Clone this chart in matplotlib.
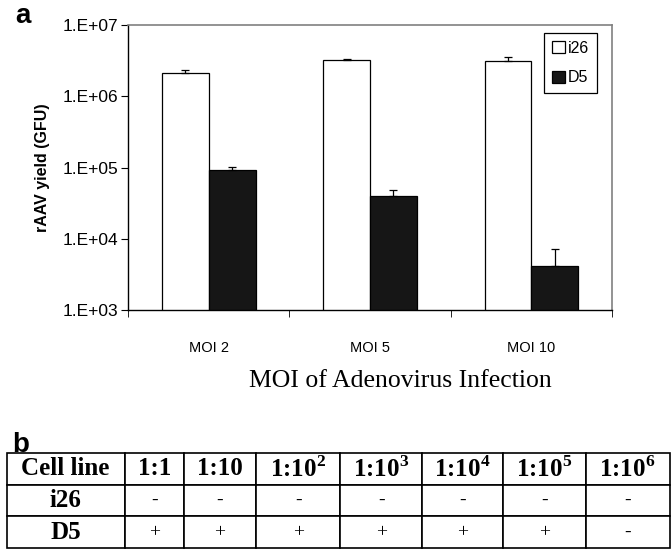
import matplotlib.pyplot as plt
import numpy as np

plt.rcParams['font.family'] = ['Liberation Sans', 'DejaVu Sans']
plt.rcParams['mathtext.fontset'] = 'custom'
plt.rcParams['mathtext.rm'] = 'Liberation Serif'
plt.rcParams['mathtext.bf'] = 'Liberation Serif:bold'

# panel a data
categories = ['MOI 2', 'MOI 5', 'MOI 10']
i26_yield = [2.1e6, 3.2e6, 3.15e6]
i26_err = [0.22e6, 0.08e6, 0.45e6]
d5_yield = [9.2e4, 4.0e4, 4.2e3]
d5_err = [1.1e4, 9e3, 3.0e3]
yticks = [1e3, 1e4, 1e5, 1e6, 1e7]
ytick_labels = ['1.E+03', '1.E+04', '1.E+05', '1.E+06', '1.E+07']

# panel b data
dilutions = ['1:1', '1:10', '1:10$^{\\mathbf{2}}$', '1:10$^{\\mathbf{3}}$',
             '1:10$^{\\mathbf{4}}$', '1:10$^{\\mathbf{5}}$', '1:10$^{\\mathbf{6}}$']
i26_result = ['-', '-', '-', '-', '-', '-', '-']
d5_result = ['+', '+', '+', '+', '+', '+', '-']

fig = plt.figure(figsize=(6.71, 5.54), dpi=100)
ax = fig.add_axes([0.191, 0.440, 0.721, 0.515])

x = np.arange(len(categories))
w = 0.29
ax.bar(x - w/2, i26_yield, w, color='white', edgecolor='black', linewidth=0.9,
       yerr=[[0]*3, i26_err], capsize=3, error_kw={'elinewidth': 0.9, 'capthick': 0.9},
       label='i26', zorder=2)
ax.bar(x + w/2, d5_yield, w, color='#161616', edgecolor='black', linewidth=0.9,
       yerr=[[0]*3, d5_err], capsize=3, error_kw={'elinewidth': 0.9, 'capthick': 0.9},
       label='D5', zorder=2)
ax.set_yscale('log')
ax.set_ylim(1e3, 1e7)
ax.set_xlim(-0.5, 2.5)
ax.set_yticks(yticks)
ax.set_yticklabels(ytick_labels, fontsize=12.5)
ax.yaxis.set_minor_locator(plt.NullLocator())
ax.set_xticks(x)
ax.set_xticklabels(categories, fontsize=10.5)
ax.set_xticks([-0.5, 0.5, 1.5, 2.5], minor=True)
ax.tick_params(axis='x', which='major', length=0, pad=22)
ax.tick_params(axis='x', which='minor', length=5, direction='out')
ax.tick_params(axis='y', length=5, direction='out', pad=2)
for s in ['top', 'right']:
    ax.spines[s].set_color('#808080')
    ax.spines[s].set_linewidth(1.2)
ax.spines['left'].set_linewidth(1.0)
ax.spines['bottom'].set_linewidth(1.0)
ax.set_ylabel('rAAV yield (GFU)', fontsize=11.5, fontweight='bold', labelpad=9)

leg = ax.legend(loc='upper right', bbox_to_anchor=(0.969, 0.972), fontsize=11.5,
                fancybox=False, edgecolor='black', handlelength=0.8, handleheight=0.8,
                handletextpad=0.2, labelspacing=0.9, borderpad=0.5, borderaxespad=0,
                framealpha=1)
leg.get_frame().set_linewidth(0.9)

fig.text(0.596, 0.312, 'MOI of Adenovirus Infection', family='Liberation Serif',
         fontsize=18.5, ha='center', va='center')
fig.text(0.022, 0.972, 'a', fontsize=20, fontweight='bold', va='center')
fig.text(0.018, 0.196, 'b', fontsize=20, fontweight='bold', va='center')

# panel b table
tax = fig.add_axes([6.5/671, 1 - 548/554, 663/671, 95/554])
tax.axis('off')
cells = [['i26'] + i26_result, ['D5'] + d5_result]
col_px = [118.5, 59, 73, 84, 82, 81, 83, 84]
tbl = tax.table(cellText=[['Cell line'] + dilutions] + cells,
                colWidths=[c / sum(col_px) for c in col_px],
                cellLoc='center', bbox=[0, 0, 1, 1])
tbl.auto_set_font_size(False)
for (r, c), cell in tbl.get_celld().items():
    cell.set_linewidth(1.2)
    t = cell.get_text()
    t.set_family('Liberation Serif')
    if r == 0 or c == 0:
        t.set_fontweight('bold')
        t.set_fontsize(18)
    else:
        t.set_fontsize(14)

fig.savefig('out.png', dpi=100)
